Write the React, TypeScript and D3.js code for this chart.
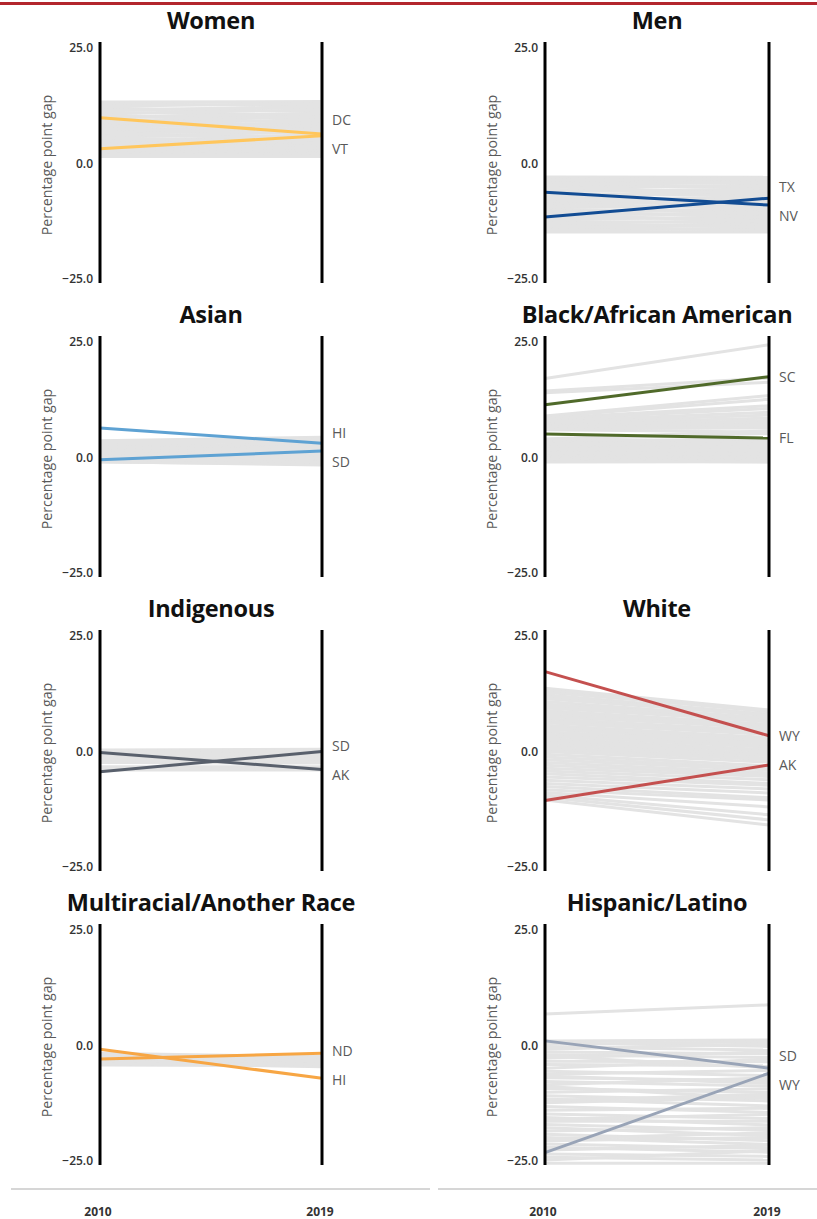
import React from "react";
import * as d3 from "d3";

const years = ["2010", "2019"];
const tickValues = [25, 0, -25];

// gray state lines: gap in 2010 and 2019 (percentage points)
const womenStart = [13.3, 12.9, 12.4, 12.0, 11.6, 11.1, 10.8, 10.3, 9.9, 9.5, 9.2, 8.8, 8.5, 8.1, 7.8, 7.4, 7.1, 6.8, 6.4, 6.1, 5.8, 5.4, 5.1, 4.8, 4.5, 4.2, 3.9, 3.6, 3.3, 3.0, 2.7, 2.4, 2.1, 1.8, 1.5, 10.6, 7.6, 5.6, 9.0, 4.0, 2.9, 11.4, 6.6];
const womenEnd = [13.4, 12.6, 13.0, 11.2, 12.1, 10.4, 11.6, 9.8, 10.9, 9.1, 10.2, 8.4, 9.5, 7.9, 8.8, 7.3, 8.1, 6.7, 7.5, 5.9, 6.9, 5.3, 4.7, 5.6, 4.2, 4.9, 3.6, 3.9, 3.1, 2.7, 2.4, 2.9, 2.0, 1.7, 1.5, 8.6, 6.3, 4.4, 7.0, 5.1, 3.4, 12.4, 5.0];

const menStart = [-2.9, -3.4, -3.9, -4.3, -4.8, -5.2, -5.7, -6.1, -6.6, -7.0, -7.4, -7.9, -8.3, -8.7, -9.1, -9.6, -10.0, -10.4, -10.8, -11.2, -11.7, -12.1, -12.5, -12.9, -13.3, -13.7, -14.1, -14.5, -14.8, -5.0, -8.0, -9.4, -11.0, -6.9, -12.8, -4.6, -3.6, -13.5, -10.2, -7.7];
const menEnd = [-3.0, -3.6, -4.4, -3.9, -5.2, -4.8, -6.0, -5.5, -6.9, -6.4, -7.8, -7.2, -8.6, -8.1, -9.5, -9.0, -10.3, -9.8, -11.2, -10.6, -12.0, -11.5, -12.9, -12.4, -13.6, -13.2, -14.3, -14.0, -14.8, -6.6, -9.3, -7.5, -12.6, -5.8, -13.9, -4.1, -3.2, -14.6, -11.7, -8.9];

const asianStart = [3.6, 3.3, 3.1, 2.5, 2.2, 2.0, 1.7, 1.5, 1.2, 1.0, 0.8, 0.5, 0.3, 0.0, -0.2, -0.4, -0.6, -0.8, -1.0, -0.9, 2.7, 1.9, 0.7, -0.3, 1.4, 3.4, 0.2, 2.3, -0.5, 1.1];
const asianEnd = [4.4, 4.0, 3.6, 2.8, 3.2, 2.4, 2.0, 1.6, 2.6, 1.2, 0.9, 0.5, 1.8, 0.2, -0.2, -0.5, -0.8, -1.1, -1.4, -1.6, 3.8, 1.0, 0.0, -0.9, 2.2, 3.4, -0.4, 1.4, 0.6, -0.1];

const blackStart = [17.1, 14.4, 14.0, 9.0, 8.8, 8.5, 8.2, 7.9, 7.6, 7.3, 7.0, 6.8, 6.5, 6.2, 4.0, 3.8, 3.5, 3.2, 3.0, 2.7, 2.5, 2.2, 2.0, 1.7, 1.5, 1.2, 1.0, 0.7, 0.5, 0.2, 0.0, -0.3, -0.6, -1.0, 3.9, 2.9, 1.8, 0.9, 8.0, 6.0];
const blackEnd = [24.4, 17.2, 16.3, 13.4, 12.6, 11.2, 10.6, 9.8, 9.2, 8.5, 8.0, 7.4, 7.0, 6.4, 5.8, 3.6, 4.0, 3.0, 3.4, 2.6, 2.2, 1.8, 2.0, 1.4, 1.0, 1.2, 0.6, 0.3, 0.0, -0.3, -0.6, -0.8, -1.0, -0.9, 5.2, 2.8, 1.6, 0.8, 6.8, 5.5];

const indigenousStart = [0.3, 0.0, -0.3, -0.6, -0.9, -1.2, -1.5, -1.8, -2.1, -2.4, -3.3, -3.6, -4.0, -0.5, -1.0, -1.6, -2.2, -0.2, -3.5, -1.3];
const indigenousEnd = [0.5, 0.2, -0.2, -0.5, -0.9, -1.2, -1.5, -1.8, -2.2, -2.5, -3.3, -3.6, -4.0, -1.0, -0.4, -2.0, -1.6, -0.7, -3.9, -0.1];

const whiteStart = [13.7, 13.2, 12.8, 12.3, 11.9, 11.4, 10.8, 10.3, 9.9, 9.4, 8.9, 8.5, 8.0, 7.6, 7.1, 6.6, 6.2, 5.7, 5.2, 4.8, 4.3, 3.8, 3.3, 2.8, 2.4, 1.9, 1.4, 0.9, 0.5, 0.0, -0.6, -1.2, -1.8, -2.4, -3.0, -3.6, -4.2, -4.8, -5.5, -6.2, -6.9, -7.6, -8.3, -8.9, -9.4, -9.9, -10.5];
const whiteEnd = [9.0, 8.6, 8.8, 8.1, 7.7, 7.9, 7.2, 6.9, 6.4, 6.6, 5.9, 5.5, 5.0, 5.2, 4.5, 4.1, 3.7, 3.0, 2.6, 2.2, 1.8, 1.3, 0.9, 0.4, 0.0, -0.5, -0.9, -1.4, -1.8, -2.3, -3.1, -3.6, -4.0, -4.6, -5.0, -5.4, -6.1, -6.9, -7.3, -8.1, -9.0, -10.0, -10.5, -12.0, -13.7, -14.8, -15.9];

const multiStart = [-1.7, -2.0, -2.3, -2.6, -2.9, -3.2, -3.5, -3.8, -4.2, -2.5, -3.0, -3.6, -1.9, -4.0];
const multiEnd = [-2.4, -2.7, -3.0, -3.3, -3.6, -3.9, -4.2, -4.6, -4.4, -3.8, -2.6, -3.1, -3.4, -4.1];

const hispanicStart = [6.8, 1.0, 0.6, 0.2, -0.3, -0.8, -1.4, -2.0, -2.7, -3.4, -4.1, -4.9, -5.6, -6.2, -7.0, -7.8, -8.5, -9.3, -10.1, -10.9, -11.6, -12.4, -13.2, -14.0, -14.8, -15.6, -16.4, -17.1, -17.8, -18.5, -19.2, -19.9, -20.6, -21.3, -22.0, -22.6, -23.5, -24.2, -24.8, -25.5, -2.3, -6.6, -11.9, -16.0, -20.2, -8.9];
const hispanicEnd = [8.8, 1.2, -0.2, 0.8, -1.0, 0.4, -1.8, -2.6, -1.4, -3.5, -4.4, -3.0, -6.5, -5.4, -7.6, -8.8, -7.0, -10.2, -9.4, -12.0, -13.1, -11.2, -14.5, -13.6, -15.8, -17.2, -16.4, -18.4, -19.5, -17.8, -20.6, -21.4, -19.9, -22.3, -23.1, -21.6, -24.0, -24.8, -22.8, -25.5, -4.8, -8.2, -10.6, -14.9, -18.9, -11.5];

// highlighted states
const womenStates = ["DC", "VT"];
const womenHiStart = [9.9, 3.2];
const womenHiEnd = [6.4, 6.0];
const menStates = ["TX", "NV"];
const menHiStart = [-11.6, -6.2];
const menHiEnd = [-7.5, -9.0];
const asianStates = ["HI", "SD"];
const asianHiStart = [6.4, -0.5];
const asianHiEnd = [3.1, 1.4];
const blackStates = ["SC", "FL"];
const blackHiStart = [11.4, 5.1];
const blackHiEnd = [17.5, 4.2];
const indigenousStates = ["SD", "AK"];
const indigenousHiStart = [-4.4, -0.2];
const indigenousHiEnd = [0.0, -3.9];
const whiteStates = ["WY", "AK"];
const whiteHiStart = [17.3, -10.6];
const whiteHiEnd = [3.4, -2.9];
const multiStates = ["ND", "HI"];
const multiHiStart = [-2.9, -0.8];
const multiHiEnd = [-1.7, -7.1];
const hispanicStates = ["SD", "WY"];
const hispanicHiStart = [1.0, -23.2];
const hispanicHiEnd = [-4.9, -6.0];

const panels = [
  { title: "Women", color: "#ffc65c", start: womenStart, end: womenEnd, states: womenStates, hiStart: womenHiStart, hiEnd: womenHiEnd },
  { title: "Men", color: "#124c93", start: menStart, end: menEnd, states: menStates, hiStart: menHiStart, hiEnd: menHiEnd },
  { title: "Asian", color: "#5ea2d3", start: asianStart, end: asianEnd, states: asianStates, hiStart: asianHiStart, hiEnd: asianHiEnd },
  { title: "Black/African American", color: "#506a2a", start: blackStart, end: blackEnd, states: blackStates, hiStart: blackHiStart, hiEnd: blackHiEnd },
  { title: "Indigenous", color: "#59606c", start: indigenousStart, end: indigenousEnd, states: indigenousStates, hiStart: indigenousHiStart, hiEnd: indigenousHiEnd },
  { title: "White", color: "#c4504f", start: whiteStart, end: whiteEnd, states: whiteStates, hiStart: whiteHiStart, hiEnd: whiteHiEnd },
  { title: "Multiracial/Another Race", color: "#f7a644", start: multiStart, end: multiEnd, states: multiStates, hiStart: multiHiStart, hiEnd: multiHiEnd },
  { title: "Hispanic/Latino", color: "#99a4b7", start: hispanicStart, end: hispanicEnd, states: hispanicStates, hiStart: hispanicHiStart, hiEnd: hispanicHiEnd },
];

const W = 817;
const H = 1219;
const colLeft = [100, 545];
const colRight = [322, 769];
const firstTop = 42;
const rowStep = 294;
const axisLen = 241;
const font = "'Open Sans', 'DejaVu Sans', sans-serif";

// push labels apart so they don't overlap
function spread(ys: number[], gap: number) {
  const idx = d3.range(ys.length).sort((a, b) => ys[a] - ys[b]);
  const p = idx.map(i => ys[i]);
  for (let it = 0; it < 60; it++) {
    for (let k = 1; k < p.length; k++) {
      const d = p[k] - p[k - 1];
      if (d < gap) {
        const m = (gap - d) / 2;
        p[k - 1] -= m;
        p[k] += m;
      }
    }
  }
  const out = ys.slice();
  idx.forEach((i, k) => { out[i] = p[k]; });
  return out;
}

function Panel({ panel, i }: { panel: any; i: number }) {
  const col = i % 2;
  const row = Math.floor(i / 2);
  const top = firstTop + row * rowStep;
  const x = d3.scalePoint<string>().domain(years).range([colLeft[col], colRight[col]]);
  const y = d3.scaleLinear().domain([-25, 25]).range([top + 237, top + 6]);
  const x0 = x("2010")!;
  const x1 = x("2019")!;
  const labelY = spread(panel.hiEnd.map((v: number) => y(v)), 29);

  return (
    <g>
      <text x={(x0 + x1) / 2} y={top - 13} textAnchor="middle" fontFamily={font} fontWeight={700} fontSize={23.5} letterSpacing={-0.3} fill="#111">
        {panel.title}
      </text>
      <text transform={`translate(${x0 - 48},${top + 123}) rotate(-90)`} textAnchor="middle" fontFamily={font} fontSize={14.2} fill="#595959">
        Percentage point gap
      </text>
      {tickValues.map(t => (
        <text key={t} x={x0 - 7} y={y(t)} dy="0.35em" textAnchor="end" fontFamily={font} fontWeight={600} fontSize={12} fill="#333">
          {d3.format(".1f")(t)}
        </text>
      ))}
      {panel.start.map((v: number, k: number) => (
        <line key={"g" + k} x1={x0} x2={x1} y1={y(v)} y2={y(panel.end[k])} stroke="#e3e3e3" strokeWidth={3} />
      ))}
      {panel.hiStart.map((v: number, k: number) => (
        <line key={"h" + k} x1={x0} x2={x1} y1={y(v)} y2={y(panel.hiEnd[k])} stroke={panel.color} strokeWidth={3} />
      ))}
      <line x1={x0} x2={x0} y1={top} y2={top + axisLen} stroke="#000" strokeWidth={3} />
      <line x1={x1} x2={x1} y1={top} y2={top + axisLen} stroke="#000" strokeWidth={3} />
      {panel.states.map((s: string, k: number) => (
        <text key={s} x={x1 + 10} y={labelY[k]} dy="0.35em" fontFamily={font} fontSize={14} fill="#595959">
          {s}
        </text>
      ))}
    </g>
  );
}

export default function App() {
  return (
    <svg width={W} height={H} style={{ position: "absolute", left: 0, top: 0, background: "#fff" }}>
      <rect x={0} y={2} width={W} height={3} fill="#b3262d" />
      {panels.map((p, i) => <Panel key={p.title} panel={p} i={i} />)}
      <line x1={11} x2={430} y1={1189} y2={1189} stroke="#c8c8c8" strokeWidth={1.5} />
      <line x1={438} x2={W} y1={1189} y2={1189} stroke="#c8c8c8" strokeWidth={1.5} />
      {[0, 1].map(c => {
        const x = d3.scalePoint<string>().domain(years).range([colLeft[c], colRight[c]]);
        return years.map(yr => (
          <text key={c + yr} x={x(yr)! - 2} y={1216} textAnchor="middle" fontFamily={font} fontWeight={700} fontSize={12} fill="#333">
            {yr}
          </text>
        ));
      })}
    </svg>
  );
}
